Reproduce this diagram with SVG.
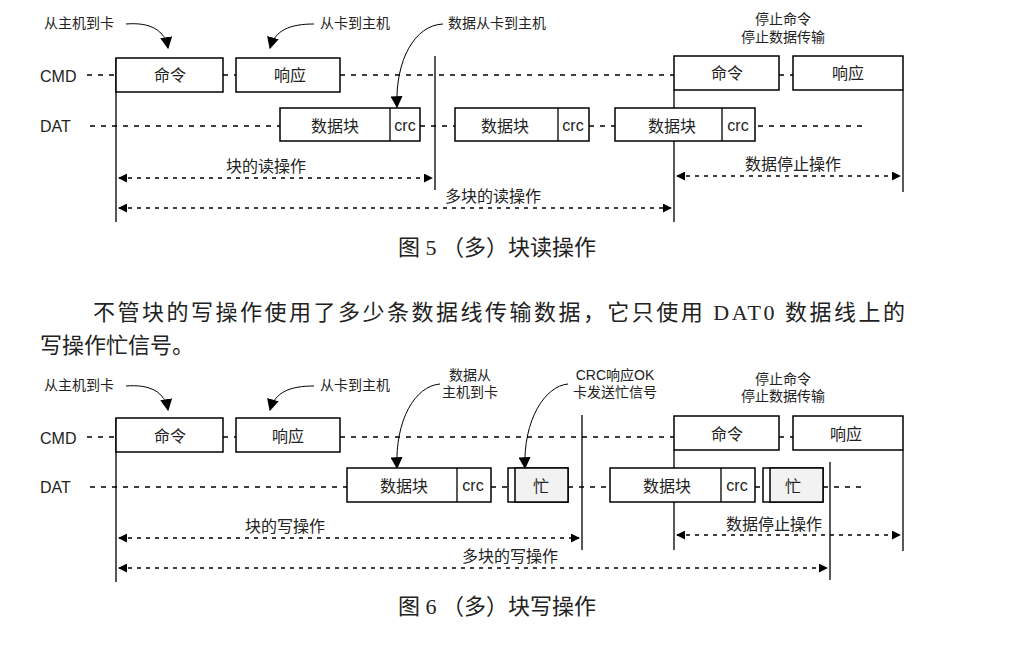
<svg xmlns="http://www.w3.org/2000/svg" width="1030" height="672" viewBox="0 0 1030 672">
<defs>
<marker id="ah" viewBox="0 0 10 10" refX="9" refY="5" markerWidth="9" markerHeight="9" markerUnits="userSpaceOnUse" orient="auto-start-reverse"><path d="M0,0 L10,5 L0,10 z" fill="#000"/></marker>
<marker id="ah2" viewBox="0 0 10 10" refX="9" refY="5" markerWidth="12" markerHeight="12" markerUnits="userSpaceOnUse" orient="auto"><path d="M0,0 L10,5 L0,10 z" fill="#000"/></marker>
</defs>
<style>
.b{fill:#fff;stroke:#000;stroke-width:1.5}
.g{fill:#f2f2f2;stroke:#000;stroke-width:1.5}
.l{stroke:#000;stroke-width:1.3;fill:none}
.d{stroke:#000;stroke-width:1.5;stroke-dasharray:5,6;fill:none}
.a{stroke:#000;stroke-width:1.5;stroke-dasharray:4,5;fill:none;marker-start:url(#ah);marker-end:url(#ah)}
.c{stroke:#000;stroke-width:1;fill:none;marker-end:url(#ah2)}
text{font-family:"Liberation Sans","Noto Sans CJK SC",sans-serif;fill:#222}
.t{font-size:16px;text-anchor:middle}
.s{font-size:14px}
.m{font-size:14px;text-anchor:middle}
.lb{font-size:16px}
.cap{font-family:"Liberation Serif","Noto Sans CJK SC",serif;font-size:22px;text-anchor:middle}
.p{font-family:"Liberation Serif","Noto Sans CJK SC",serif;font-size:22px}
</style>
<rect width="1030" height="672" fill="#fff"/>
<g id="connectors">
<path class="d" d="M87,75 H116 M223,75 H236 M340,75 H674 M779,75 H793"/>
<path class="d" d="M90,126 H280 M420,126 H455 M589,126 H615 M758,126 H865"/>
<path class="l" d="M116,58 V222 M435,56 V190 M674,90 V222 M903,90 V192"/>
<path class="a" d="M119,178 H432"/>
<path class="a" d="M119,208 H671"/>
<path class="a" d="M677,176 H900"/>
<path class="c" d="M126,24 C150,22 165,30 168,48"/>
<path class="c" d="M314,24 C290,24 275,30 270,48"/>
<path class="c" d="M443,24 C415,25 395,60 397,107"/>
<path class="d" d="M87,437 H116 M223,437 H236 M340,437 H674 M779,437 H793"/>
<path class="d" d="M90,487 H347 M491,487 H508 M568,487 H610 M755,487 H763 M823,487 H865"/>
<path class="l" d="M116,418 V582 M582,415 V550 M674,450 V550 M830,462 V580 M903,450 V551"/>
<path class="a" d="M119,538 H579"/>
<path class="a" d="M119,568 H827"/>
<path class="a" d="M677,535 H900"/>
<path class="c" d="M126,386 C150,384 165,392 168,410"/>
<path class="c" d="M314,386 C290,386 275,392 270,410"/>
<path class="c" d="M440,384 C415,386 395,420 397,468"/>
<path class="c" d="M568,384 C545,386 523,420 525,468"/>
</g>
<g id="fig5">
<text class="lb" x="40" y="82">CMD</text>
<text class="lb" x="40" y="132">DAT</text>
<g id="n5cmd"><rect class="b" x="116" y="58" width="107" height="34"/><text class="t" x="170" y="81">命令</text></g>
<g id="n5rsp"><rect class="b" x="236" y="58" width="104" height="34"/><text class="t" x="290" y="81">响应</text></g>
<g id="n5d1"><rect class="b" x="280" y="108" width="140" height="33"/><line class="l" x1="390" y1="108" x2="390" y2="141"/><text class="t" x="335" y="132">数据块</text><text class="t" x="405" y="131">crc</text></g>
<g id="n5d2"><rect class="b" x="455" y="108" width="134" height="33"/><line class="l" x1="558" y1="108" x2="558" y2="141"/><text class="t" x="505" y="132">数据块</text><text class="t" x="573" y="131">crc</text></g>
<g id="n5d3"><rect class="b" x="615" y="108" width="140" height="33"/><line class="l" x1="722" y1="108" x2="722" y2="141"/><text class="t" x="672" y="132">数据块</text><text class="t" x="738" y="131">crc</text></g>
<g id="n5stop"><rect class="b" x="674" y="56" width="105" height="34"/><text class="t" x="727" y="79">命令</text></g>
<g id="n5rsp2"><rect class="b" x="793" y="56" width="110" height="34"/><text class="t" x="848" y="79">响应</text></g>
<text class="s" x="44" y="28">从主机到卡</text>
<text class="s" x="320" y="28">从卡到主机</text>
<text class="s" x="448" y="28">数据从卡到主机</text>
<text class="m" x="783" y="24">停止命令</text>
<text class="m" x="783" y="42">停止数据传输</text>
<text class="t" x="266" y="172">块的读操作</text>
<text class="t" x="493" y="202">多块的读操作</text>
<text class="t" x="793" y="170">数据停止操作</text>
<text class="cap" x="497" y="255">图 5 （多）块读操作</text>
</g>
<text class="p" x="93" y="320" textLength="812" lengthAdjust="spacing">不管块的写操作使用了多少条数据线传输数据，它只使用 DAT0 数据线上的</text>
<text class="p" x="40" y="353">写操作忙信号。</text>
<g id="fig6">
<text class="lb" x="40" y="444">CMD</text>
<text class="lb" x="40" y="493">DAT</text>
<g id="n6cmd"><rect class="b" x="116" y="418" width="107" height="34"/><text class="t" x="170" y="442">命令</text></g>
<g id="n6rsp"><rect class="b" x="236" y="418" width="104" height="34"/><text class="t" x="288" y="442">响应</text></g>
<g id="n6d1"><rect class="b" x="347" y="468" width="144" height="34"/><line class="l" x1="457" y1="468" x2="457" y2="502"/><text class="t" x="404" y="492">数据块</text><text class="t" x="473" y="491">crc</text></g>
<g id="n6b1"><rect class="b" x="508" y="468" width="60" height="34"/><rect class="g" x="515" y="468" width="53" height="34"/><text class="t" x="541" y="492">忙</text></g>
<g id="n6d2"><rect class="b" x="610" y="468" width="145" height="34"/><line class="l" x1="721" y1="468" x2="721" y2="502"/><text class="t" x="667" y="492">数据块</text><text class="t" x="737" y="491">crc</text></g>
<g id="n6b2"><rect class="b" x="763" y="468" width="60" height="34"/><rect class="g" x="770" y="468" width="53" height="34"/><text class="t" x="793" y="492">忙</text></g>
<g id="n6stop"><rect class="b" x="674" y="416" width="105" height="34"/><text class="t" x="727" y="440">命令</text></g>
<g id="n6rsp2"><rect class="b" x="793" y="416" width="110" height="34"/><text class="t" x="846" y="440">响应</text></g>
<text class="s" x="44" y="390">从主机到卡</text>
<text class="s" x="320" y="390">从卡到主机</text>
<text class="m" x="470" y="380">数据从</text>
<text class="m" x="470" y="397">主机到卡</text>
<text class="m" x="615" y="380">CRC响应OK</text>
<text class="m" x="615" y="397">卡发送忙信号</text>
<text class="m" x="783" y="384">停止命令</text>
<text class="m" x="783" y="401">停止数据传输</text>
<text class="t" x="285" y="532">块的写操作</text>
<text class="t" x="510" y="562">多块的写操作</text>
<text class="t" x="774" y="530">数据停止操作</text>
<text class="cap" x="497" y="614">图 6 （多）块写操作</text>
</g>
</svg>
